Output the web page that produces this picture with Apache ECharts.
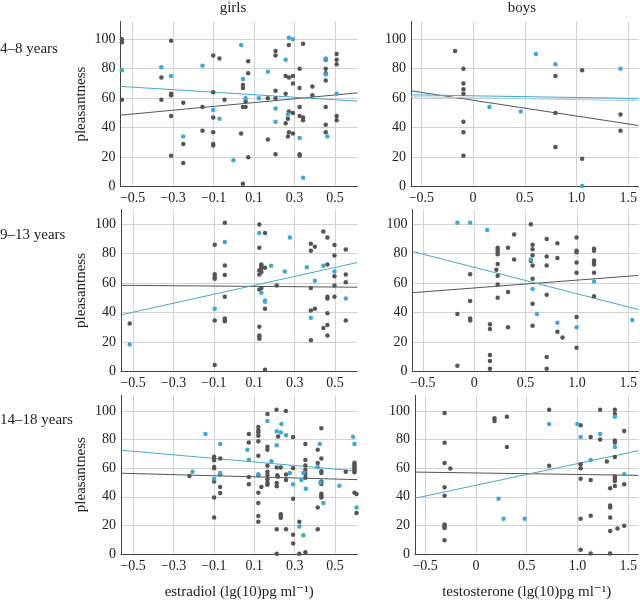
<!DOCTYPE html>
<html>
<head>
<meta charset="utf-8">
<script src="https://cdn.jsdelivr.net/npm/echarts@6/dist/echarts.min.js"></script>
<style>html,body{margin:0;padding:0;background:#fff}#c{width:640px;height:601px}</style>
</head>
<body>
<div id="c"></div>
<script>
// ---------- DATA ----------
const colTitles = ['girls', 'boys'];
const rowTitles = ['4–8 years', '9–13 years', '14–18 years'];
const xAxisNames = ['estradiol (lg(10)pg ml⁻¹)', 'testosterone (lg(10)pg ml⁻¹)'];
const yAxisName = 'pleasantness';
const girlsTicks = [-0.5, -0.3, -0.1, 0.1, 0.3, 0.5];
const boysTicks = [-0.5, 0, 0.5, 1.0, 1.5];
const yTicks = [0, 20, 40, 60, 80, 100];

const girls48Gray = [[-0.553,100],[-0.553,98],[-0.553,59],[-0.31,99],[-0.358,74],[-0.358,59],[-0.31,63],[-0.31,62],[-0.31,48],[-0.31,21],
[-0.25,57],[-0.25,29],[-0.25,16],[-0.155,54],[-0.155,38],[-0.102,89],[-0.102,64],[-0.102,47],[-0.102,37],[-0.102,29],[-0.102,28],
[-0.071,87],[-0.046,59],[0.045,69],[0.045,67],[0.036,36],[0.045,54],[0.058,54],[0.058,58],[0.045,2],[0.071,85],[0.071,77],[0.071,20],
[0.168,60],[0.168,32],[0.206,92],[0.206,89],[0.206,65],[0.206,60],[0.206,22],[0.256,75],[0.256,63],[0.256,43],
[0.272,96],[0.272,74],[0.292,75],[0.292,70],[0.272,51],[0.267,46],[0.292,50],[0.267,34],[0.272,37],[0.292,36],
[0.342,97],[0.325,80],[0.325,67],[0.325,54],[0.325,48],[0.342,47],[0.342,45],[0.325,22],[0.325,21],[0.388,68],[0.388,62],
[0.454,86],[0.454,80],[0.454,77],[0.454,72],[0.454,54],[0.454,42],[0.454,37],[0.508,90],[0.508,86],[0.508,83],[0.508,48],[0.508,45]];
const girls48Blue = [[-0.553,79],[-0.358,81],[-0.31,75],[-0.25,34],[-0.155,82],[-0.102,52],[-0.071,46],[-0.002,18],[0.036,96],[0.045,73],
[0.058,60],[0.124,60],[0.168,78],[0.206,53],[0.206,44],[0.256,86],[0.272,101],[0.292,100],[0.267,49],[0.325,33],[0.342,6],
[0.454,87],[0.454,76],[0.462,34],[0.508,63]];
const girls48GrayFit = [[-0.56,48.5],[0.61,63.6]];
const girls48BlueFit = [[-0.56,68],[0.61,58]];

const boys48Gray = [[-0.174,92],[-0.093,80],[-0.093,70],[-0.093,66],[-0.093,63],[-0.093,44],[-0.093,37],[-0.093,21],
[0.796,75],[0.796,50],[0.796,27],[1.054,79],[1.054,19],[1.425,49],[1.425,38]];
const boys48Blue = [[0.158,54],[0.461,51],[0.607,90],[0.796,83],[1.054,0.5],[1.425,80]];
const boys48GrayFit = [[-0.6,65],[1.6,41.5]];
const boys48BlueFit = [[-0.6,62.3],[1.6,59.8]];
const boys48BlueFit2 = [[-0.6,61],[1.6,58.3]];

const girls913Gray = [[-0.517,32.6],[-0.096,86],[-0.096,66],[-0.096,64],[-0.096,63],[-0.096,34.5],[-0.096,4.3],
[-0.046,101],[-0.046,72],[-0.046,65.5],[-0.046,50.7],[-0.046,36],[-0.046,35],[-0.046,34],
[0.125,99.8],[0.153,94],[0.125,84],[0.135,72.6],[0.135,71.5],[0.135,70.3],[0.125,68.7],[0.125,65.8],[0.153,70.5],[0.135,67.6],
[0.125,55.7],[0.135,56.6],[0.153,42.5],[0.125,30.4],[0.125,24.4],[0.125,23.3],[0.125,22.1],[0.153,1.1],[0.211,58.4],
[0.38,86.8],[0.40,84.7],[0.38,82],[0.38,56.6],[0.38,41.3],[0.40,42.5],[0.38,21.2],
[0.442,95],[0.462,90.9],[0.462,72.6],[0.462,50.7],[0.462,49.5],[0.462,39.5],[0.442,29.5],[0.462,31.5],[0.462,24.4],
[0.497,85.8],[0.497,78.8],[0.497,64.6],[0.497,58.4],[0.497,50.7],[0.553,82.9],[0.553,65.8],[0.553,60.5],[0.553,34.5]];
const girls913Blue = [[-0.517,18.3],[-0.096,42.5],[-0.046,88],[0.125,94],[0.135,53.4],[0.153,48.2],[0.153,47.3],[0.183,71.7],
[0.251,67.8],[0.276,90.9],[0.36,70.8],[0.38,36.5],[0.40,61.6],[0.442,71.7],[0.497,67.8],[0.553,49.5]];
const girls913GrayFit = [[-0.56,58.5],[0.61,57.2]];
const girls913BlueFit = [[-0.56,38.4],[0.61,74]];

const boys913Gray = [[-0.163,3.9],[-0.039,66],[-0.039,47.8],[-0.039,36],[-0.039,34.5],[-0.163,39],
[0.154,32],[0.154,28.8],[0.154,11.1],[0.154,7],[0.154,1.8],
[0.229,84],[0.229,82.8],[0.229,81.2],[0.229,79.6],[0.229,73],[0.216,69],[0.229,65],[0.229,59],[0.229,50],
[0.33,84],[0.33,54],[0.33,30],[0.389,93],[0.389,76],
[0.552,100],[0.569,86],[0.569,83],[0.569,79],[0.552,75],[0.569,72],[0.569,63],[0.569,46],[0.569,31],
[0.706,90],[0.706,78],[0.706,72],[0.706,52],[0.706,9.8],[0.706,1.8],[0.81,87],[0.81,77],[0.81,27],[0.86,23],
[0.997,91],[0.997,82],[0.997,81],[0.997,74],[0.997,67],[0.997,37],[0.997,16],
[1.167,83.4],[1.167,82],[1.167,75.3],[1.167,74],[1.167,72.6],[1.167,67],[1.167,51]];
const boys913Blue = [[-0.163,101],[-0.039,101],[0.127,96],[0.552,76],[0.569,56],[0.611,39],[0.81,33],[0.997,30],[1.167,61],[1.539,35]];
const boys913GrayFit = [[-0.6,53.5],[1.6,65.2]];
const boys913BlueFit = [[-0.6,81.5],[1.6,42]];

const girls1418Gray = [[-0.221,54.5],[-0.099,68],[-0.099,66.8],[-0.099,65.5],[-0.099,60.8],[-0.099,59.9],[-0.099,50.7],[-0.099,39.5],[-0.099,25.6],
[-0.069,66.8],[-0.069,55.8],[-0.069,46.9],[-0.069,42.6],[0.073,84],[0.073,78],[0.073,53.8],[0.073,48.7],
[0.12,88.8],[0.12,86.3],[0.12,85],[0.12,82.7],[0.12,78.9],[0.12,68.8],[0.12,55],[0.12,42.8],[0.12,35.7],[0.12,26.5],[0.12,22.6],[0.135,46.9],
[0.165,98],[0.165,75],[0.165,72.9],[0.165,61.7],[0.165,57.6],[0.165,55.2],[0.165,52.2],[0.165,49.8],[0.165,48.4],
[0.21,100.9],[0.218,82.1],[0.211,60.5],[0.231,60.5],[0.214,55],[0.216,54],[0.211,49.6],[0.211,47.3],[0.231,27.8],[0.231,26.7],[0.231,25.3],[0.211,17.3],[0.211,0.2],
[0.256,100],[0.257,55.6],[0.257,51.8],[0.257,17.3],[0.292,81.8],[0.292,59.9],[0.292,38.6],[0.292,13.5],[0.292,7.4],
[0.323,22.6],[0.323,0.2],[0.353,1.3],[0.353,76.9],[0.353,65.7],[0.353,61.9],[0.353,59],[0.353,56],[0.353,53.4],
[0.414,72.9],[0.414,63.7],[0.414,32.5],[0.414,17.3],[0.432,87.9],[0.432,66.8],[0.432,57.8],[0.432,56.7],[0.432,50.7],[0.432,48.9],[0.432,42.2],[0.432,40.8],[0.432,39.5],
[0.553,57.6],[0.596,63.9],[0.596,62.6],[0.596,61.2],[0.596,59.9],[0.596,58.5],[0.596,57.2],[0.596,42.8],[0.606,41.9],[0.606,28.7]];
const girls1418Blue = [[-0.206,57.6],[-0.142,84],[-0.099,52.7],[-0.069,76.9],[-0.069,56.7],[0.066,72.9],[0.073,65.9],[0.12,55.8],[0.165,93],[0.185,64.8],
[0.211,85.8],[0.211,76],[0.234,91],[0.231,85],[0.257,83],[0.276,56.7],[0.292,48.7],[0.323,19.3],[0.343,13.2],[0.333,51.8],[0.343,56.7],[0.355,45.7],
[0.424,76.9],[0.414,60.8],[0.427,50],[0.442,35.7],[0.521,47.8],[0.589,82],[0.596,77],[0.614,46.6],[0.606,32.5]];
const girls1418GrayFit = [[-0.56,56.5],[0.61,52]];
const girls1418BlueFit = [[-0.56,72.6],[0.61,58]];

const boys1418Gray = [[-0.309,98.7],[-0.309,77.8],[-0.309,63.6],[-0.252,59.8],[-0.309,46.7],[-0.309,40.7],[-0.309,20.7],[-0.309,19.3],[-0.309,18.2],[-0.309,9.7],
[0.183,95],[0.183,93],[0.305,96],[0.305,74.8],[0.721,100.9],[0.721,61.8],
[1.031,90],[1.031,62.7],[1.031,60],[1.031,52.6],[1.031,24.7],[1.031,2.9],[1.13,81.8],[1.13,51.7],[1.13,26.7],[1.13,0.4],
[1.223,100.9],[1.223,80],[1.289,64.7],[1.322,46],[1.322,33.9],[1.322,32.6],[1.322,25.6],[1.322,16],[1.322,0.4],[1.394,17.8],
[1.368,100.9],[1.368,98],[1.368,79.3],[1.368,78],[1.368,67.9],[1.368,54.2],[1.368,52.8],[1.368,51],[1.368,47.6],
[1.46,86],[1.46,48.8],[1.46,19.8]];
const boys1418Blue = [[0.223,38.7],[0.272,24.7],[0.48,24.7],[0.721,91],[0.998,91],[1.031,81.8],[1.223,84],[1.13,65.8],[1.368,96],[1.368,74.8],[1.46,55.7]];
const boys1418GrayFit = [[-0.6,57.3],[1.6,55]];
const boys1418BlueFit = [[-0.6,39],[1.6,72.3]];

// ---------- LAYOUT / STYLE ----------
const FONT = '"Liberation Serif", "DejaVu Serif", serif';
const GRAY = '#555555', BLUE = '#3aabd8', BLUE_LINE = '#45a9d3', BLUE_LINE2 = '#9fd2e8';
const TEXT = '#222222';
const rowTop = [21.5, 209.5, 395.3];
const rowHeight = [165.2, 161.9, 165.1];
const rowYMax = [112, 110, 111];
const colLeft = [[120.5, 121, 121], [411, 412.5, 415]];
const colRightPx = [282.7, 0];
const colXRange = [[-0.56, 0.61], [-0.6, 1.6]];

const panels = [
  {r:0,c:0,gray:girls48Gray,blue:girls48Blue,fits:[[girls48GrayFit,GRAY],[girls48BlueFit,BLUE_LINE]]},
  {r:0,c:1,gray:boys48Gray,blue:boys48Blue,fits:[[boys48GrayFit,GRAY],[boys48BlueFit2,BLUE_LINE2],[boys48BlueFit,BLUE_LINE]]},
  {r:1,c:0,gray:girls913Gray,blue:girls913Blue,fits:[[girls913GrayFit,GRAY],[girls913BlueFit,BLUE_LINE]]},
  {r:1,c:1,gray:boys913Gray,blue:boys913Blue,fits:[[boys913GrayFit,GRAY],[boys913BlueFit,BLUE_LINE]]},
  {r:2,c:0,gray:girls1418Gray,blue:girls1418Blue,fits:[[girls1418GrayFit,GRAY],[girls1418BlueFit,BLUE_LINE]]},
  {r:2,c:1,gray:boys1418Gray,blue:boys1418Blue,fits:[[boys1418GrayFit,GRAY],[boys1418BlueFit,BLUE_LINE]]}
];

function fmtX(v) {
  if (Math.abs(v) < 1e-9) return '0';
  const s = Math.abs(v).toFixed(1);
  return v < 0 ? '−' + s : s;
}

const grid = [], xAxis = [], yAxis = [], series = [];
panels.forEach((p, i) => {
  grid.push({left: colLeft[p.c][p.r], right: colRightPx[p.c], top: rowTop[p.r], height: rowHeight[p.r], containLabel: false});
  const ticks = p.c === 0 ? girlsTicks : boysTicks;
  const xa = {
    gridIndex: i, type: 'value', min: colXRange[p.c][0], max: colXRange[p.c][1],
    axisLine: {show: true, onZero: false, lineStyle: {color: '#444', width: 1}},
    axisTick: {show: false, customValues: ticks},
    axisLabel: {customValues: ticks, formatter: v => fmtX(v), fontFamily: FONT, fontSize: 14, color: TEXT, margin: 5},
    splitLine: {show: true, lineStyle: {color: '#d2d2d2', width: 1}}
  };
  if (p.r === 2) {
    xa.name = xAxisNames[p.c];
    xa.nameLocation = 'middle';
    xa.nameGap = 31;
    xa.nameTextStyle = {fontFamily: FONT, fontSize: 15, color: TEXT};
  }
  xAxis.push(xa);
  const ya = {
    gridIndex: i, type: 'value', min: 0, max: rowYMax[p.r],
    axisLine: {show: true, onZero: false, lineStyle: {color: '#444', width: 1}},
    axisTick: {show: false, customValues: yTicks},
    axisLabel: {customValues: yTicks, fontFamily: FONT, fontSize: 14, color: TEXT, margin: 5},
    splitLine: {show: true, lineStyle: {color: '#d2d2d2', width: 1}}
  };
  if (p.c === 0) {
    ya.name = yAxisName;
    ya.nameLocation = 'middle';
    ya.nameRotate = 90;
    ya.nameGap = 32;
    ya.nameTextStyle = {fontFamily: FONT, fontSize: 15, color: TEXT};
  }
  yAxis.push(ya);
  p.fits.forEach(f => {
    series.push({type: 'line', xAxisIndex: i, yAxisIndex: i, data: f[0], showSymbol: false, silent: true,
      lineStyle: {color: f[1], width: 1}, z: 2});
  });
  series.push({type: 'scatter', xAxisIndex: i, yAxisIndex: i, data: p.gray, symbolSize: 4.5, silent: true,
    itemStyle: {color: GRAY, opacity: 1}, z: 3});
  series.push({type: 'scatter', xAxisIndex: i, yAxisIndex: i, data: p.blue, symbolSize: 4.5, silent: true,
    itemStyle: {color: BLUE, opacity: 1}, z: 4});
});

const graphic = [
  {type: 'text', x: 233, y: 8, style: {text: colTitles[0], fontFamily: FONT, fontSize: 15, fill: TEXT, align: 'center', verticalAlign: 'middle'}},
  {type: 'text', x: 522, y: 8, style: {text: colTitles[1], fontFamily: FONT, fontSize: 15, fill: TEXT, align: 'center', verticalAlign: 'middle'}},
  {type: 'text', x: 0, y: 49, style: {text: rowTitles[0], fontFamily: FONT, fontSize: 15, fill: TEXT, align: 'left', verticalAlign: 'middle'}},
  {type: 'text', x: 0, y: 235, style: {text: rowTitles[1], fontFamily: FONT, fontSize: 15, fill: TEXT, align: 'left', verticalAlign: 'middle'}},
  {type: 'text', x: 0, y: 420, style: {text: rowTitles[2], fontFamily: FONT, fontSize: 15, fill: TEXT, align: 'left', verticalAlign: 'middle'}}
];

const chart = echarts.init(document.getElementById('c'), null, {renderer: 'canvas'});
chart.setOption({animation: false, backgroundColor: '#fff', grid, xAxis, yAxis, series, graphic});
</script>
</body>
</html>
